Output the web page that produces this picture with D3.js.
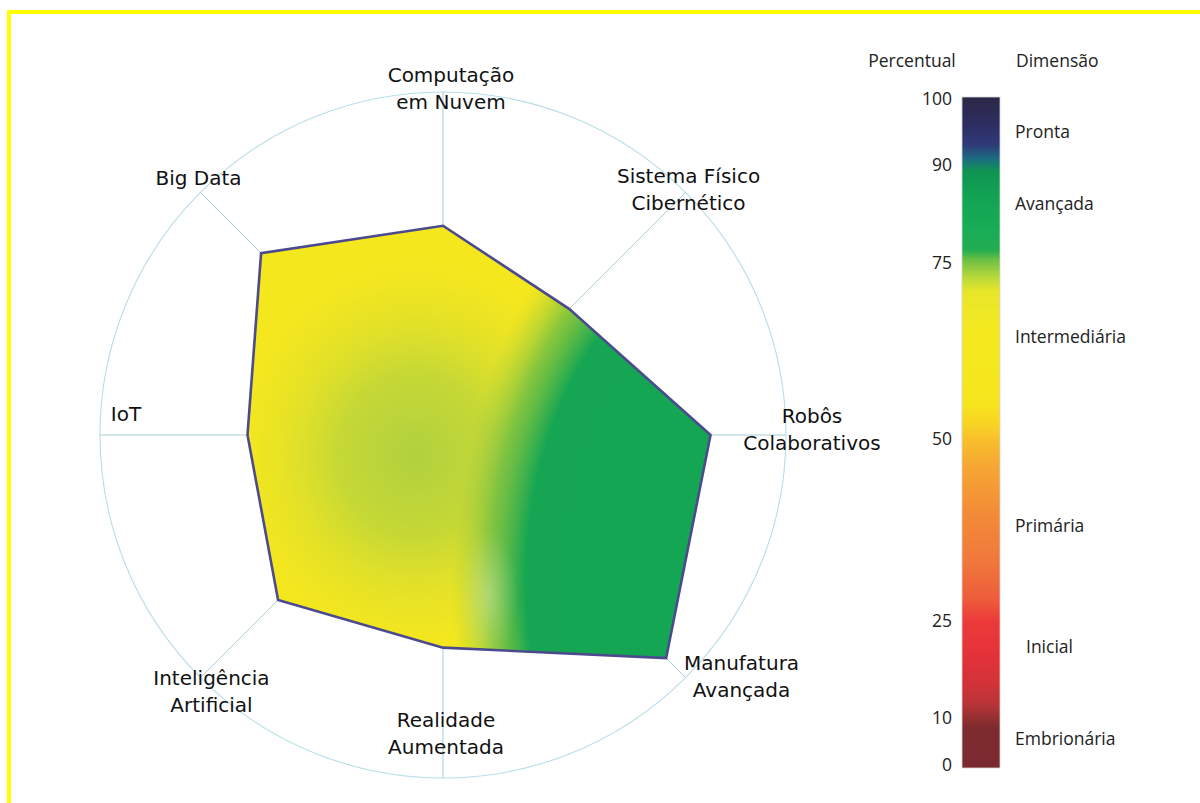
<!DOCTYPE html>
<html lang="pt">
<head>
<meta charset="utf-8">
<title>Maturidade em tecnologias da Indústria 4.0</title>
<script src="https://cdn.jsdelivr.net/npm/d3@7"></script>
<style>
  html, body { margin: 0; padding: 0; background: #fff; }
  svg { display: block; }
  .axis-label { font-family: "DejaVu Sans", "Open Sans", sans-serif; }
  .legend text { font-family: "Open Sans", "DejaVu Sans", sans-serif; }
</style>
</head>
<body>
<div id="chart"></div>
<script>
// ---- data -------------------------------------------------------------
const dimensions = [
  ["Computação", "em Nuvem"],
  ["Sistema Físico", "Cibernético"],
  ["Robôs", "Colaborativos"],
  ["Manufatura", "Avançada"],
  ["Realidade", "Aumentada"],
  ["Inteligência", "Artificial"],
  ["IoT"],
  ["Big Data"]
];
const scores = [61, 52, 78, 92, 62, 68, 57, 75];

const legendTicks = [0, 10, 25, 50, 75, 90, 100];
const stageNames = ["Embrionária", "Inicial", "Primária", "Intermediária", "Avançada", "Pronta"];
const stageAt = [5.5, 21, 38, 64.5, 84, 95];

// colour ramp of the maturity bar: [percent, colour]
const rampStops = [
  [0, "#7a2a2f"], [8, "#7e2b2f"], [10, "#953031"], [12, "#b63436"],
  [15, "#d03238"], [20, "#e6323a"], [25, "#ec3a3a"], [28, "#ee5c3b"],
  [33, "#f0773c"], [40, "#f38c37"], [46, "#f5a633"], [50, "#f8c02c"],
  [52, "#f8d322"], [55, "#f6e51e"], [65, "#f5ea1f"], [71, "#e8e62a"],
  [73, "#b7d83a"], [75.5, "#6cbf44"], [77, "#22ad50"], [80, "#18ad56"],
  [85, "#12a453"], [89, "#0f9452"], [91, "#1d6b82"], [93, "#2f3b78"],
  [96, "#2e2d63"], [100, "#2b2947"]
];

// ---- layout -----------------------------------------------------------
const W = 1200, H = 803;
const cx = 443, cy = 435, R = 343;
// label offsets (x, first baseline) from the end of each spoke
const labelNudge = [[8, -10], [3, -9], [26, -12], [56, -8], [3, -51], [11, 7], [26, -14], [-2, -7]];
const lineH = 27;

const svg = d3.select("#chart").append("svg")
  .attr("width", W).attr("height", H);

svg.append("rect").attr("width", W).attr("height", H).attr("fill", "#fff");

// frame (top and left edges)
svg.append("path")
  .attr("d", `M9,${H} V12 H${W}`)
  .attr("fill", "none").attr("stroke", "#ffff00").attr("stroke-width", 4)
  .attr("stroke-linejoin", "miter");

const r = d3.scaleLinear().domain([0, 100]).range([0, R]);
const angle = d3.scaleLinear().domain([0, dimensions.length]).range([0, 2 * Math.PI]);
const pt = (i, radius) => [
  cx + radius * Math.sin(angle(i)),
  cy - radius * Math.cos(angle(i))
];

const defs = svg.append("defs");

// ---- grid -------------------------------------------------------------
const grid = svg.append("g");
grid.append("circle")
  .attr("cx", cx).attr("cy", cy).attr("r", r(100))
  .attr("fill", "none").attr("stroke", "#b9dde8").attr("stroke-width", 1.1);
grid.selectAll("line").data(dimensions).join("line")
  .attr("x1", cx).attr("y1", cy)
  .attr("x2", (d, i) => pt(i, r(100))[0])
  .attr("y2", (d, i) => pt(i, r(100))[1])
  .attr("stroke", "#a9cdd7").attr("stroke-width", 1);

// ---- radar area -------------------------------------------------------
const lineGen = d3.lineRadial()
  .angle((d, i) => angle(i))
  .radius(d => r(d))
  .curve(d3.curveLinearClosed);
const areaPath = lineGen(scores);

defs.append("clipPath").attr("id", "areaClip")
  .append("path").attr("d", areaPath).attr("transform", `translate(${cx},${cy})`);

function radial(id, x, y, rad, sy, stops) {
  const g = defs.append("radialGradient").attr("id", id)
    .attr("gradientUnits", "userSpaceOnUse")
    .attr("cx", x).attr("cy", y).attr("r", rad)
    .attr("gradientTransform", `translate(${x},${y}) scale(1,${sy}) translate(${-x},${-y})`);
  stops.forEach(([o, c, a]) => g.append("stop")
    .attr("offset", o).attr("stop-color", c).attr("stop-opacity", a));
}

radial("yellowGreen", 415, 455, 190, 1.08, [
  [0, "#acd041", 0.95], [0.4, "#b6d33d", 0.75], [0.75, "#d2dc33", 0.3], [1, "#e9e52a", 0]
]);
radial("greenSide", 790, 580, 350, 400 / 300, [
  [0, "#14a653", 1], [0.755, "#16a653", 1], [0.86, "#55b74a", 0.65], [0.97, "#a8cf45", 0]
]);
radial("haze", 488, 595, 30, 2.2, [
  [0, "#ffffff", 0.28], [1, "#ffffff", 0]
]);

const fillG = svg.append("g").attr("clip-path", "url(#areaClip)");
["#f5e71d", "url(#yellowGreen)", "url(#greenSide)", "url(#haze)"].forEach(f =>
  fillG.append("rect")
    .attr("x", cx - R).attr("y", cy - R).attr("width", 2 * R).attr("height", 2 * R)
    .attr("fill", f));

svg.append("path")
  .attr("d", areaPath)
  .attr("transform", `translate(${cx},${cy})`)
  .attr("fill", "none")
  .attr("stroke", "#4b4a8e").attr("stroke-width", 2.6)
  .attr("stroke-linejoin", "miter");

// ---- axis labels ------------------------------------------------------
const labels = svg.append("g").attr("class", "axis-label")
  .attr("font-size", 20).attr("fill", "#111").attr("text-anchor", "middle");
dimensions.forEach((lines, i) => {
  const [ex, ey] = pt(i, r(100));
  const t = labels.append("text")
    .attr("x", ex + labelNudge[i][0])
    .attr("y", ey + labelNudge[i][1]);
  lines.forEach((ln, k) => {
    t.append("tspan")
      .attr("x", ex + labelNudge[i][0])
      .attr("dy", k === 0 ? 0 : lineH)
      .text(ln);
  });
});

// ---- maturity legend --------------------------------------------------
const barX = 962, barW = 38;
const ly = d3.scaleLinear()
  .domain(legendTicks)
  .range([765, 718, 621, 439, 263, 165, 99]);
const barTop = ly(100) - 2, barBottom = ly(0) + 3;

const ramp = defs.append("linearGradient").attr("id", "ramp")
  .attr("x1", 0).attr("y1", 0).attr("x2", 0).attr("y2", 1);
ramp.selectAll("stop")
  .data(rampStops.slice().sort((a, b) => b[0] - a[0]))
  .join("stop")
  .attr("offset", d => (ly(d[0]) - barTop) / (barBottom - barTop))
  .attr("stop-color", d => d[1]);

const legend = svg.append("g").attr("class", "legend")
  .attr("font-size", 17.5).attr("fill", "#222");
legend.append("rect")
  .attr("x", barX).attr("y", barTop)
  .attr("width", barW).attr("height", barBottom - barTop)
  .attr("fill", "url(#ramp)")
  .attr("stroke", "#d4d4d4").attr("stroke-width", 0.8);

legend.append("text").attr("x", 912).attr("y", 61).attr("dy", "0.35em")
  .attr("text-anchor", "middle").text("Percentual");
legend.append("text").attr("x", 1016).attr("y", 61).attr("dy", "0.35em")
  .text("Dimensão");

legend.selectAll("text.tick").data(legendTicks).join("text")
  .attr("class", "tick")
  .attr("x", 952).attr("y", d => ly(d)).attr("dy", "0.35em")
  .attr("text-anchor", "end")
  .text(d => d);

legend.selectAll("text.stage").data(stageNames).join("text")
  .attr("class", "stage")
  .attr("x", (d, i) => i === 1 ? 1026 : 1015)
  .attr("y", (d, i) => ly(stageAt[i])).attr("dy", "0.35em")
  .text(d => d);
</script>
</body>
</html>
